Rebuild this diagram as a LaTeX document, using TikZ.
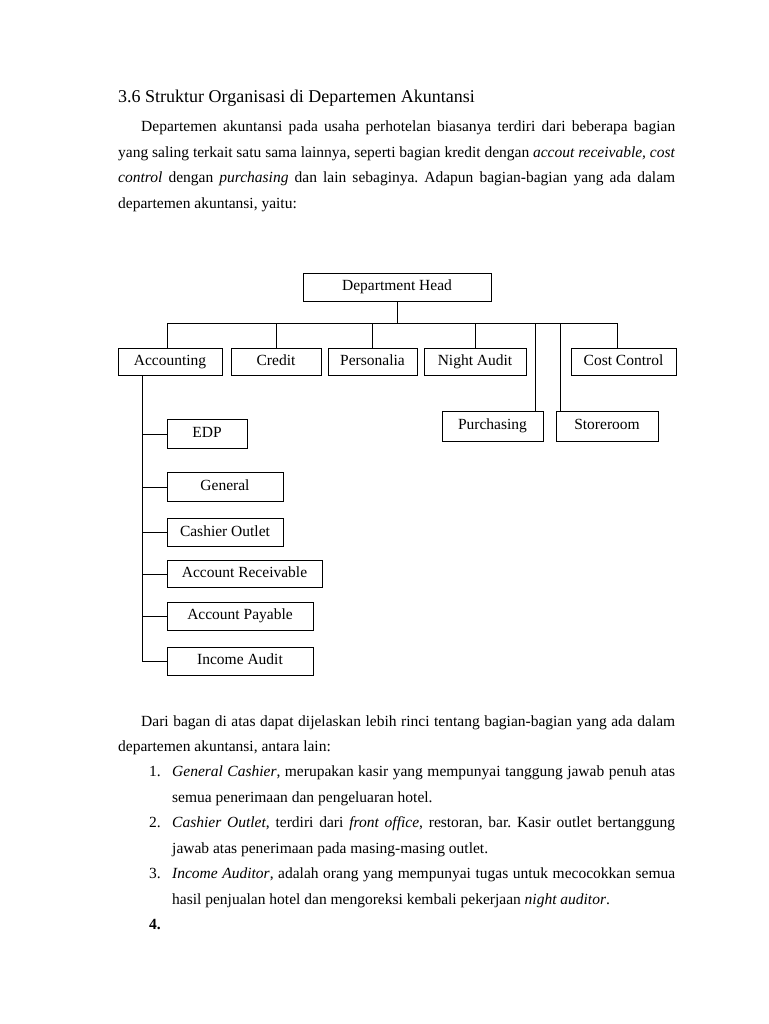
\documentclass[tikz,border=0pt]{standalone}
\usepackage{fontspec}
\setmainfont{Liberation Serif}
\begin{document}
\frenchspacing
\begin{tikzpicture}[x=1pt,y=-1pt,
  txt/.style={anchor=base west, inner sep=0pt, font=\fontsize{15.5}{18}\selectfont},
  num/.style={anchor=base east, inner sep=0pt, font=\fontsize{15.5}{18}\selectfont},
  box/.style={draw, line width=1pt, inner sep=0pt, text height=11pt, text depth=4pt, font=\fontsize{15.5}{18}\selectfont},
  ln/.style={line width=1pt}]
\useasboundingbox[fill=white] (0,0) rectangle (768,1024);

% title and first paragraph
\node[txt, font=\fontsize{18}{21}\selectfont] (title) at (118,103) {3.6 Struktur Organisasi di Departemen Akuntansi};
\node[txt] (p1a) at (141,132) {\makebox[534pt][s]{Departemen akuntansi pada usaha perhotelan biasanya terdiri dari beberapa bagian}};
\node[txt] (p1b) at (118,158) {\makebox[557pt][s]{yang saling terkait satu sama lainnya, seperti bagian kredit dengan \textit{accout receivable, cost}}};
\node[txt] (p1c) at (118,183) {\makebox[557pt][s]{\textit{control} dengan \textit{purchasing} dan lain sebaginya. Adapun bagian-bagian yang ada dalam}};
\node[txt] (p1d) at (118,209) {departemen akuntansi, yaitu:};

% chart
\node[box, minimum width=188pt, minimum height=28pt] (head) at (397,287) {Department Head};
\node[box, minimum width=104pt, minimum height=27pt] (acc) at (170,361.5) {Accounting};
\node[box, minimum width=90pt, minimum height=27pt] (credit) at (276,361.5) {Credit};
\node[box, minimum width=89pt, minimum height=27pt] (pers) at (372.5,361.5) {Personalia};
\node[box, minimum width=102pt, minimum height=27pt] (night) at (475,361.5) {Night Audit};
\node[box, minimum width=105pt, minimum height=27pt] (cost) at (623.5,361.5) {Cost Control};
\node[box, minimum width=101pt, minimum height=30pt] (purch) at (492.5,426) {Purchasing};
\node[box, minimum width=102pt, minimum height=30pt] (store) at (607,426) {Storeroom};

\node[box, minimum width=80pt, minimum height=29pt] (edp) at (207,434) {EDP};
\node[box, minimum width=116pt, minimum height=29pt] (gen) at (225,487) {General};
\node[box, minimum width=116pt, minimum height=28pt] (cash) at (225,532.5) {Cashier Outlet};
\node[box, minimum width=155pt, minimum height=27pt] (ar) at (244.5,574) {Account Receivable};
\node[box, minimum width=146pt, minimum height=28pt] (ap) at (240,616) {Account Payable};
\node[box, minimum width=146pt, minimum height=28pt] (ia) at (240,661) {Income Audit};

\coordinate (busL) at (167,323);
\coordinate (busR) at (617,323);
\coordinate (pj) at (535,323);
\coordinate (sj) at (560,323);
\coordinate (accv) at (142,375);

\draw[ln] (busL) -- (busR);
\draw[ln] (head.south) -- (head.south |- busL);
\draw[ln] (busL) -- (busL |- acc.north);
\draw[ln] (credit.north) -- (credit.north |- busL);
\draw[ln] (pers.north) -- (pers.north |- busL);
\draw[ln] (night.north) -- (night.north |- busL);
\draw[ln] (busR) -- (busR |- cost.north);
\draw[ln] (pj) -- (pj |- purch.north);
\draw[ln] (sj) -- (sj |- store.north);

\draw[ln] (accv) -- (accv |- ia.west);
\foreach \n in {edp,gen,cash,ar,ap,ia}
  \draw[ln] (accv |- \n.west) -- (\n.west);

% second paragraph
\node[txt] (p2a) at (141,726) {\makebox[534pt][s]{Dari bagan di atas dapat dijelaskan lebih rinci tentang bagian-bagian yang ada dalam}};
\node[txt] (p2b) at (118,751) {departemen akuntansi, antara lain:};

\node[num] (n1) at (161,776) {1.};
\node[txt] (l1a) at (172,776) {\makebox[503pt][s]{\textit{General Cashier}, merupakan kasir yang mempunyai tanggung jawab penuh atas}};
\node[txt] (l1b) at (172,802) {semua penerimaan dan pengeluaran hotel.};
\node[num] (n2) at (161,827) {2.};
\node[txt] (l2a) at (172,827) {\makebox[503pt][s]{\textit{Cashier Outlet}, terdiri dari \textit{front office}, restoran, bar. Kasir outlet bertanggung}};
\node[txt] (l2b) at (172,853) {jawab atas penerimaan pada masing-masing outlet.};
\node[num] (n3) at (161,878) {3.};
\node[txt] (l3a) at (172,878) {\makebox[503pt][s]{\textit{Income Auditor}, adalah orang yang mempunyai tugas untuk mecocokkan semua}};
\node[txt] (l3b) at (172,904) {hasil penjualan hotel dan mengoreksi kembali pekerjaan \textit{night auditor}.};
\node[num] (n4) at (161,929) {\textbf{4.}};
\end{tikzpicture}
\end{document}
